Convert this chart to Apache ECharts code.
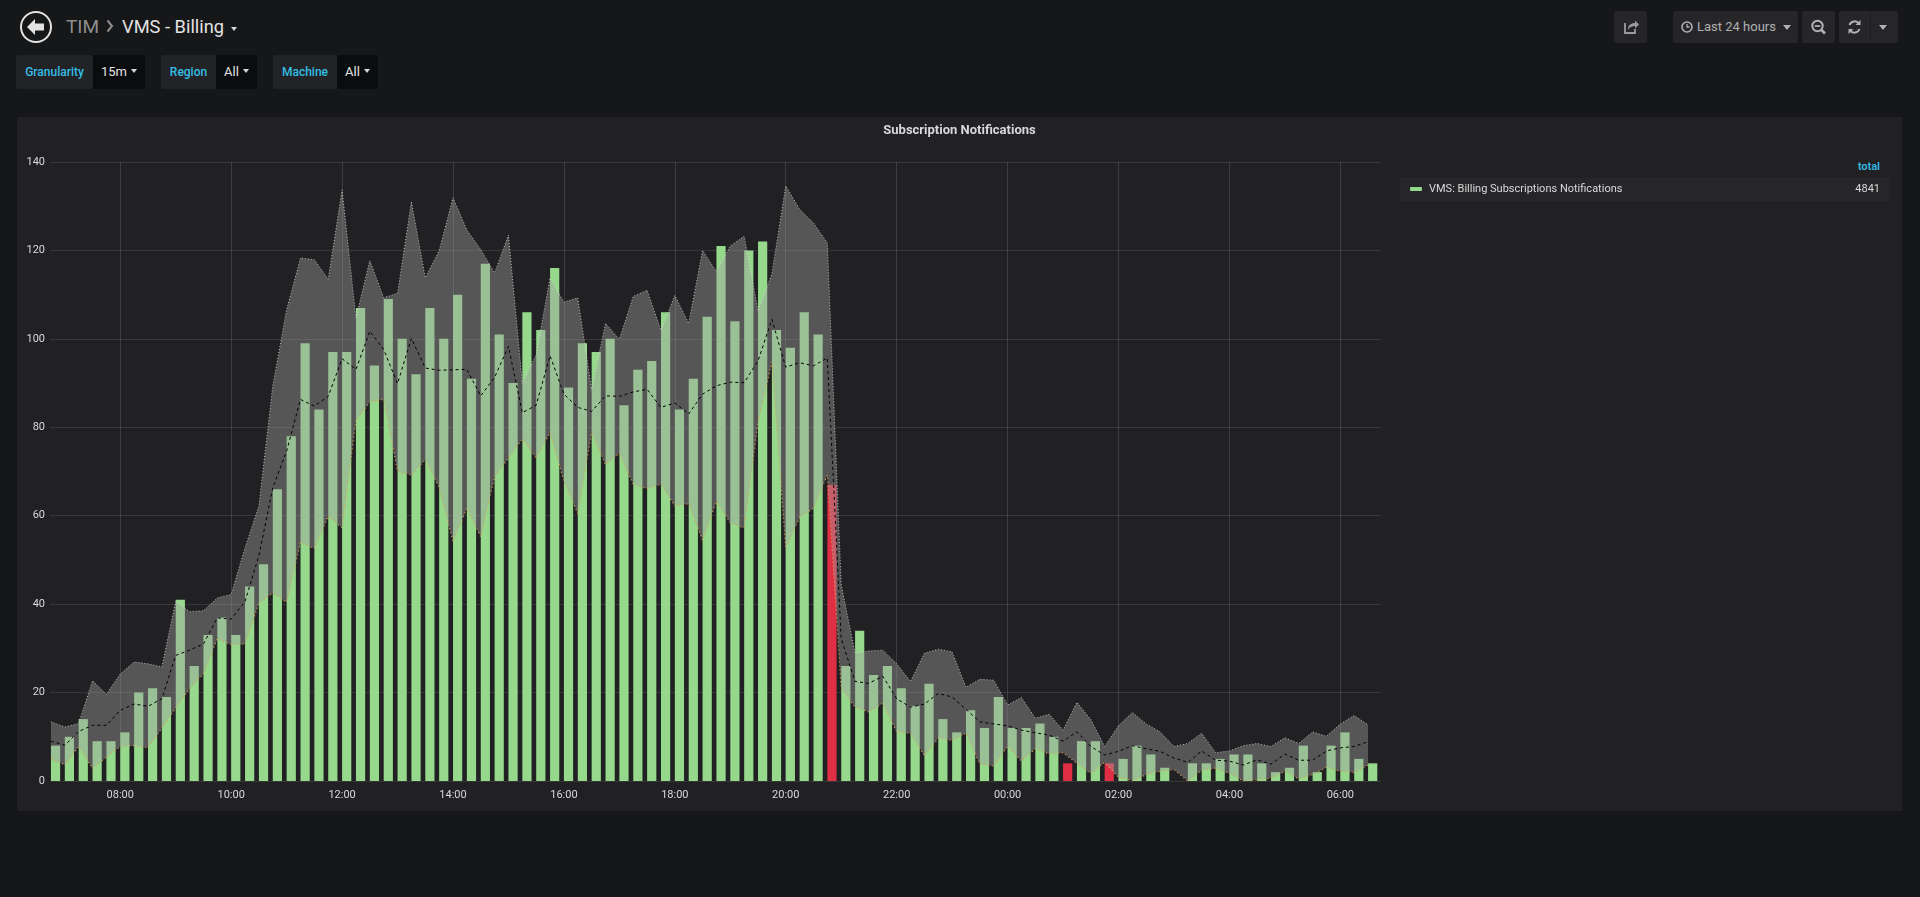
<!DOCTYPE html>
<html lang="en">
<head>
<meta charset="UTF-8">
<title>VMS - Billing</title>
<script src="https://cdn.jsdelivr.net/npm/echarts@6/dist/echarts.min.js"></script>
<style>
    html, body { margin: 0; padding: 0; width: 1920px; height: 897px; overflow: hidden; background: #161719; font-family: Roboto, "Noto Sans", sans-serif; }
    .abs { position: absolute; }
    .back { left: 19px; top: 10px; width: 34px; height: 34px; }
    .crumb { top: 14px; height: 26px; line-height: 26px; font-size: 19px; }
    .tim { left: 66px; color: #8e8e8e; }
    .chev { left: 106px; top: 19px; }
    .dash-title { left: 122px; color: #e3e3e3; font-size: 18.3px; }
    .caret { width: 0; height: 0; border-left: 3.5px solid transparent; border-right: 3.5px solid transparent; border-top: 4px solid #d8d9da; }
    .var-label { top: 55px; height: 34px; line-height: 34px; background: #222326; color: #35bde4; font-size: 12px; font-weight: 500; text-align: center; border-radius: 2px 0 0 2px; }
    .var-value { top: 55px; height: 34px; line-height: 34px; background: #0b0c0e; color: #e3e3e3; font-size: 13px; padding-left: 8px; box-sizing: border-box; border-radius: 0 2px 2px 0; }
    .var-value .caret { display: inline-block; position: relative; top: -3px; margin-left: 4px; }
    .btn { top: 11px; height: 32px; background: #262628; border-radius: 2px; }
    .btn svg { position: absolute; }
    .time-text { left: 1697px; top: 11px; line-height: 32px; font-size: 13px; color: #b0b1b3; }
    .panel { left: 17px; top: 117px; width: 1885px; height: 694px; background: #212124; }
    .panel-title { position: absolute; left: 0; right: 0; top: 5px; text-align: center; font-size: 13px; font-weight: bold; color: #d8d9da; }
    #chart { position: absolute; left: 0; top: 0; width: 1885px; height: 694px; }
    .legend-head { position: absolute; right: 22px; top: 43px; font-size: 11px; font-weight: bold; color: #33b5e5; }
    .legend-row { position: absolute; left: 1383px; right: 12px; top: 60px; height: 24px; line-height: 24px; background: #262628; font-size: 11px; color: #d8d9da; }
    .legend-row .icon { position: absolute; left: 10px; top: 10px; width: 12px; height: 4px; border-radius: 1px; background: #96d98d; }
    .legend-row .name { position: absolute; left: 29px; }
    .legend-row .total { position: absolute; right: 10px; }
</style>
</head>
<body>
<!-- header -->
<svg class="abs back" viewBox="-17 -17 34 34">
    <circle cx="0" cy="0" r="15" fill="none" stroke="#e3e3e3" stroke-width="2"></circle>
    <polygon points="-9,0 -1,-8 -1,-3.5 8,-3.5 8,3.5 -1,3.5 -1,8" fill="#e3e3e3"></polygon>
</svg>
<div class="abs crumb tim">TIM</div>
<svg class="abs chev" width="8" height="14" viewBox="0 0 8 14"><path d="M1.5 1.5 L6 7 L1.5 12.5" fill="none" stroke="#8e8e8e" stroke-width="2"></path></svg>
<div class="abs crumb dash-title">VMS - Billing</div>
<div class="abs caret" style="left: 231px; top: 27px;"></div>

<!-- template variables -->
<div class="abs var-label" style="left: 16px; width: 77px;">Granularity</div>
<div class="abs var-value" style="left: 93px; width: 52px;">15m<span class="caret"></span></div>
<div class="abs var-label" style="left: 161px; width: 55px;">Region</div>
<div class="abs var-value" style="left: 216px; width: 41px;">All<span class="caret"></span></div>
<div class="abs var-label" style="left: 273px; width: 64px;">Machine</div>
<div class="abs var-value" style="left: 337px; width: 41px;">All<span class="caret"></span></div>

<!-- top right buttons -->
<div class="abs btn" style="left: 1614px; width: 33px;">
    <svg width="33" height="32" viewBox="0 0 33 32"><path d="M11 12 V22 H21 V18" fill="none" stroke="#9a9b9d" stroke-width="1.8"></path><path d="M14 19 C14 14 17 12 21 12 V9.5 L25 13.5 L21 17.5 V15 C18 15 15.5 16 14 19 Z" fill="#9a9b9d"></path></svg>
</div>
<div class="abs btn" style="left: 1673px; width: 125px;">
    <svg width="20" height="32" viewBox="0 0 20 32" style="left: 4px;"><circle cx="10" cy="16" r="5" fill="none" stroke="#b0b1b3" stroke-width="1.6"></circle><path d="M10 13 V16 H12.5" fill="none" stroke="#b0b1b3" stroke-width="1.3"></path></svg>
    <div class="abs caret" style="left: 110px; top: 14px; border-top-color: #b0b1b3; border-left-width: 4.5px; border-right-width: 4.5px; border-top-width: 5px;"></div>
</div>
<div class="abs time-text">Last 24 hours</div>
<div class="abs btn" style="left: 1802px; width: 33px;">
    <svg width="33" height="32" viewBox="0 0 33 32"><circle cx="15.5" cy="15" r="5.2" fill="none" stroke="#b0b1b3" stroke-width="2"></circle><path d="M19 18.5 L23 22.5" stroke="#b0b1b3" stroke-width="2.6"></path><path d="M12.8 15 H18.2" stroke="#b0b1b3" stroke-width="1.8"></path></svg>
</div>
<div class="abs btn" style="left: 1839px; width: 59px;">
    <svg width="31" height="32" viewBox="0 0 31 32"><path d="M10.5 14 A5.5 5.5 0 0 1 20 12.5" fill="none" stroke="#b0b1b3" stroke-width="2"></path><path d="M21.5 9 V14 H16.5 Z" fill="#b0b1b3"></path><path d="M20.5 18 A5.5 5.5 0 0 1 11 19.5" fill="none" stroke="#b0b1b3" stroke-width="2"></path><path d="M9.5 23 V18 H14.5 Z" fill="#b0b1b3"></path></svg>
    <div class="abs" style="left: 31px; top: 0; width: 1px; height: 32px; background: #1c1c1e;"></div>
    <div class="abs caret" style="left: 40px; top: 14px; border-top-color: #b0b1b3; border-left-width: 4.5px; border-right-width: 4.5px; border-top-width: 5px;"></div>
</div>

<!-- graph panel -->
<div class="abs panel">
    <div id="chart"></div>
    <div class="panel-title">Subscription Notifications</div>
    <div class="legend-head">total</div>
    <div class="legend-row">
        <span class="icon"></span>
        <span class="name">VMS: Billing Subscriptions Notifications</span>
        <span class="total" id="legendTotal"></span>
    </div>
</div>

<script>
    // 15 minute buckets, first one at 06:45
    var startTime = new Date(2019, 2, 13, 6, 45).getTime();
    var step = 15 * 60 * 1000;

    var counts = [
        8, 10, 14, 9, 9, 11, 20, 21, 19, 41,
        26, 33, 37, 33, 44, 49, 66, 78, 99, 84,
        97, 97, 107, 94, 109, 100, 92, 107, 100, 110,
        91, 117, 101, 90, 106, 102, 116, 89, 99, 97,
        100, 85, 93, 95, 106, 84, 91, 105, 121, 104,
        120, 122, 102, 98, 106, 101, 67, 26, 34, 24,
        26, 21, 17, 22, 14, 11, 16, 12, 19, 12,
        12, 13, 10, 4, 9, 9, 4, 5, 8, 6,
        3, 0, 4, 4, 5, 6, 6, 4, 2, 3,
        8, 2, 8, 11, 5, 4
    ];

    // expected band (upper / lower) and its mean
    var upper = [
        13.4, 12.2, 13, 22.7, 19.6, 24.2, 26.9, 26.5, 25.8, 40.6,
        38.3, 38.5, 41.4, 42.2, 52.7, 62.2, 89.3, 106.6, 118.3, 117.9,
        113.5, 133.7, 104.7, 117.7, 109.3, 110.3, 131, 113.8, 119.9, 131.9,
        124.6, 120.2, 114.9, 123.5, 89.9, 96.4, 113.8, 108.3, 109.3, 88.5,
        103.5, 99.9, 109.6, 111, 101.9, 109.8, 103.5, 120, 115.2, 121,
        123.2, 106.3, 114.7, 134.6, 129.3, 126.2, 121.7, 44.4, 28.9, 29.4,
        29.6, 26.5, 22.5, 28.9, 29.8, 29.2, 21.2, 23, 22.8, 17.2,
        18.9, 14.2, 15.1, 11.5, 17.8, 13.9, 7.8, 12.5, 15.5, 12.9,
        11.1, 7.8, 8.5, 10.8, 6.4, 6.8, 8, 8.5, 7.8, 9.8,
        8.5, 11.1, 10.1, 12.9, 14.8, 12.7
    ];

    var mean = [
        9, 8.1, 11.2, 12.6, 12.6, 16, 17.4, 16.9, 18.6, 28.4,
        29.6, 31, 36.9, 36.6, 40.6, 51, 66.3, 74.6, 86.3, 84.8,
        87, 95.5, 93.1, 101.7, 97.6, 89.9, 100.1, 93.4, 92.9, 93,
        93.1, 87.1, 91.3, 98.3, 83.3, 85, 96.2, 87.5, 84.5, 83.6,
        87.1, 87, 88, 88.6, 84.5, 85.5, 83, 87.5, 89.4, 90.2,
        90.1, 95, 104.4, 93.6, 94.6, 93.9, 95.7, 32.2, 22.5, 22.1,
        23.7, 18.6, 16.7, 17.4, 19.8, 19, 16.2, 13.4, 12.9, 12.5,
        11.5, 10.9, 10.4, 9, 11.1, 7.8, 5.9, 6.7, 8, 7.3,
        6.7, 5.2, 4.2, 6.8, 4.7, 4.5, 3.6, 4.8, 3.8, 6.1,
        4.7, 4.7, 6.8, 7.5, 7.8, 8.9
    ];

    var lower = [
        4.9, 3.7, 7.8, 2.8, 5.4, 7.8, 8, 7.5, 12, 16.5,
        20.9, 24.2, 32.2, 30.8, 31, 40.2, 42.5, 40.4, 53.9, 52.6,
        59.9, 57.3, 81.6, 85.7, 86.3, 70, 69.2, 72.7, 66.4, 54.2,
        61.7, 55.2, 68.8, 73, 77.4, 73, 78.8, 67.8, 60.5, 78.8,
        71.6, 74.1, 67.1, 66.1, 67.1, 62.2, 62.7, 54.4, 63.3, 58.4,
        57.2, 81, 94.7, 52.6, 59.6, 61.7, 69.2, 20.9, 16.7, 15.6,
        17.6, 11.1, 10.8, 5.7, 9.7, 9.2, 10.8, 3.8, 3.4, 7.8,
        4.5, 7.3, 6.1, 6.4, 4, 1.7, 4.2, 0.8, 0.1, 1.4,
        2.2, 2.6, 0, 2.4, 2.9, 1.7, 0, 0.3, 0.6, 2.2,
        0.5, 1.4, 3.1, 2.2, 1.9, 3.6
    ];

    var yTicks = [0, 20, 40, 60, 80, 100, 120, 140];
    // x tick labels, every two hours (hours after the start day's midnight)
    var xTickHours = [8, 10, 12, 14, 16, 18, 20, 22, 24, 26, 28, 30];

    window.addEventListener('load', function () {
        var times = counts.map(function (c, i) { return startTime + i * step; });
        var barShift = 5 * 60 * 1000;   // bars are drawn from the bucket start, 10 min wide
        var dayStart = new Date(2019, 2, 13).getTime();
        var xTicks = xTickHours.map(function (h) { return dayStart + h * 3600 * 1000; });

        var total = counts.reduce(function (a, b) { return a + b; }, 0);
        document.getElementById('legendTotal').textContent = total;

        var barData = counts.map(function (v, i) {
            return {
                value: [times[i] + barShift, v],
                itemStyle: { color: v < lower[i] ? '#e02f44' : '#96d98d' }
            };
        });

        var myChart = echarts.init(document.getElementById('chart'), null, { renderer: 'canvas' });
        var xMin = startTime - 60 * 1000;

        var option = {
            animation: false,
            grid: { left: 33, right: 521, top: 45, bottom: 30 },
            xAxis: {
                type: 'value',
                min: xMin,
                max: xMin + 24 * 3600 * 1000,
                axisLine: { show: false },
                axisTick: { show: false, customValues: xTicks },
                axisLabel: {
                    customValues: xTicks,
                    color: '#d8d9da',
                    fontSize: 11,
                    fontFamily: 'Roboto',
                    margin: 9,
                    formatter: function (v) {
                        var d = new Date(v);
                        var h = d.getHours(), m = d.getMinutes();
                        return (h < 10 ? '0' : '') + h + ':' + (m < 10 ? '0' : '') + m;
                    }
                },
                splitLine: { show: true, lineStyle: { color: 'rgba(255,255,255,0.13)', width: 1 } }
            },
            yAxis: {
                type: 'value',
                min: yTicks[0],
                max: yTicks[yTicks.length - 1],
                interval: yTicks[1] - yTicks[0],
                axisLine: { show: false },
                axisTick: { show: false },
                axisLabel: { color: '#d8d9da', fontSize: 11, fontFamily: 'Roboto', margin: 5 },
                splitLine: { lineStyle: { color: 'rgba(255,255,255,0.1)', width: 1 } }
            },
            series: [
                {
                    name: 'VMS: Billing Subscriptions Notifications',
                    type: 'bar',
                    barWidth: 9.2,
                    data: barData,
                    z: 1
                },
                {
                    // shaded band between lower and upper
                    name: 'band',
                    type: 'custom',
                    silent: true,
                    data: [[times[0], lower[0]]],
                    renderItem: function (params, api) {
                        var pts = [];
                        for (var i = 0; i < times.length; i++) {
                            pts.push(api.coord([times[i], upper[i]]));
                        }
                        for (var j = times.length - 1; j >= 0; j--) {
                            pts.push(api.coord([times[j], lower[j]]));
                        }
                        return {
                            type: 'polygon',
                            shape: { points: pts },
                            style: { fill: 'rgba(160,160,160,0.42)' }
                        };
                    },
                    z: 2
                },
                {
                    name: 'upper',
                    type: 'line',
                    symbol: 'none',
                    data: upper.map(function (v, i) { return [times[i], v]; }),
                    lineStyle: { color: 'rgba(220,220,220,0.8)', width: 1, type: [1, 2] },
                    z: 3
                },
                {
                    name: 'lower',
                    type: 'line',
                    symbol: 'none',
                    data: lower.map(function (v, i) { return [times[i], v]; }),
                    lineStyle: { color: '#e6a042', width: 1.2, type: [1, 3] },
                    z: 3
                },
                {
                    name: 'mean',
                    type: 'line',
                    symbol: 'none',
                    data: mean.map(function (v, i) { return [times[i], v]; }),
                    lineStyle: { color: '#000000', width: 1, type: [3, 3] },
                    z: 4
                }
            ]
        };
        myChart.setOption(option);
    });
</script>
</body>
</html>
